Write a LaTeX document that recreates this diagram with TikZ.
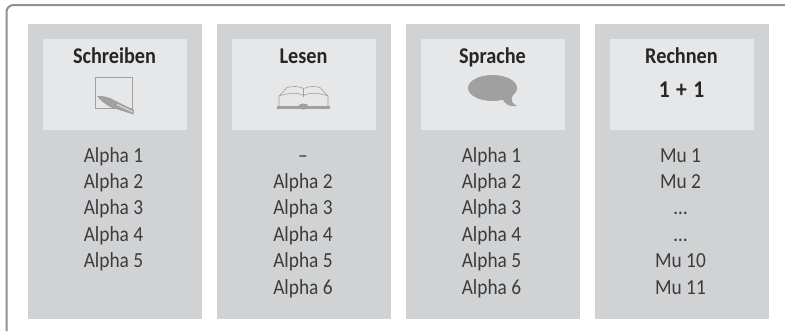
\documentclass[tikz,border=0pt]{standalone}
\usepackage{fontspec}
\setmainfont[FakeStretch=0.9]{Carlito}
\definecolor{framegray}{HTML}{8F8F8F}
\definecolor{colgray}{HTML}{D1D2D4}
\definecolor{headgray}{HTML}{E6E7E9}
\definecolor{icongray}{HTML}{A0A0A0}
\definecolor{txtgray}{HTML}{262626}
\definecolor{itemgray}{HTML}{3C3C3C}
\tikzset{
  x=1pt,y=-1pt,
  colbox/.style={fill=colgray,draw=none,minimum width=174pt,minimum height=294.5pt,inner sep=0pt,anchor=north west},
  headbox/.style={fill=headgray,draw=none,minimum width=144pt,minimum height=91pt,inner sep=0pt,anchor=north west},
  headtxt/.style={font=\fontsize{22.5}{24}\selectfont\bfseries,text=txtgray,anchor=base,inner sep=0pt},
  itemtxt/.style={font=\fontsize{21.5}{23}\selectfont,text=itemgray,anchor=base,inner sep=0pt},
  iconline/.style={draw=icongray,line width=0.8pt},
  iconfill/.style={fill=icongray,draw=none}
}
\begin{document}
\begin{tikzpicture}
\useasboundingbox (0,0) rectangle (785,332);
\fill[white] (0,0) rectangle (785,332);
\draw[framegray,line width=2pt] (6.5,331) -- (6.5,12) arc[start angle=180,end angle=270,radius=7] -- (785,5);
\foreach \n/\x in {a/28,b/217,c/406,d/595}{
  \node[colbox] (col\n) at (\x,24) {};
  \node[headbox] (head\n) at (\x+15,39) {};
}
\node[headtxt] (h1) at (114.5,63.5) {Schreiben};
\node[headtxt] (h2) at (303.5,63.5) {Lesen};
\node[headtxt] (h3) at (492.5,63.5) {Sprache};
\node[headtxt] (h4) at (681.5,63.5) {Rechnen};
\node[headtxt,font=\fontsize{24}{26}\selectfont\bfseries] (plus) at (681.5,97.5) {1\hspace{1.5pt} + \hspace{1.5pt}1};
% pen
\draw[iconline] (95,77.5) rectangle (132.8,108);
\fill[icongray] (97,96) .. controls (103,95.5) and (109,97) .. (115,100.5) -- (111.5,107.5) .. controls (106,105) and (101,101) .. cycle;
\fill[icongray] (115,100.5) -- (134,110) -- (133.5,114.5) -- (111.5,107.5) -- cycle;
\draw[headgray,line width=0.9pt] (117,104.5) -- (132.5,111.8);
% book
\draw[iconline,line width=0.6pt] (279,106) -- (279,96) -- (287,87.5) .. controls (293,86) and (298,86) .. (303.5,88.5) .. controls (309,86) and (315,86) .. (320,87.5) -- (328,96) -- (328,106);
\draw[iconline,line width=0.6pt] (279,96) .. controls (288,93) and (297,92) .. (303.5,95.5);
\draw[iconline,line width=0.6pt] (328,96) .. controls (320,93) and (310,92) .. (303.5,95.5);
\draw[iconline,line width=0.6pt] (303.5,88.5) -- (303.5,97);
\fill[icongray] (277,105.5) rectangle (330,108.5);
\fill[icongray] (303.5,106.5) ellipse[x radius=5,y radius=3];
% speech bubble
\fill[icongray] (492.5,88) ellipse[x radius=24.5,y radius=13];
\fill[icongray] (502,98) .. controls (504,103) and (509,108) .. (517,105.5) .. controls (512,104) and (510,100) .. (513,95) -- cycle;
% column texts
\foreach \x/\l in {113.5/{Alpha 1,Alpha 2,Alpha 3,Alpha 4,Alpha 5,},303/{--,Alpha 2,Alpha 3,Alpha 4,Alpha 5,Alpha 6},491.5/{Alpha 1,Alpha 2,Alpha 3,Alpha 4,Alpha 5,Alpha 6},680.5/{Mu 1,Mu 2,\dots,\dots,Mu 10,Mu 11}}{
  \foreach \t [count=\i from 0] in \l {
    \node[itemtxt] at (\x,162+26.4*\i) {\t};
  }
}
\end{tikzpicture}
\end{document}
